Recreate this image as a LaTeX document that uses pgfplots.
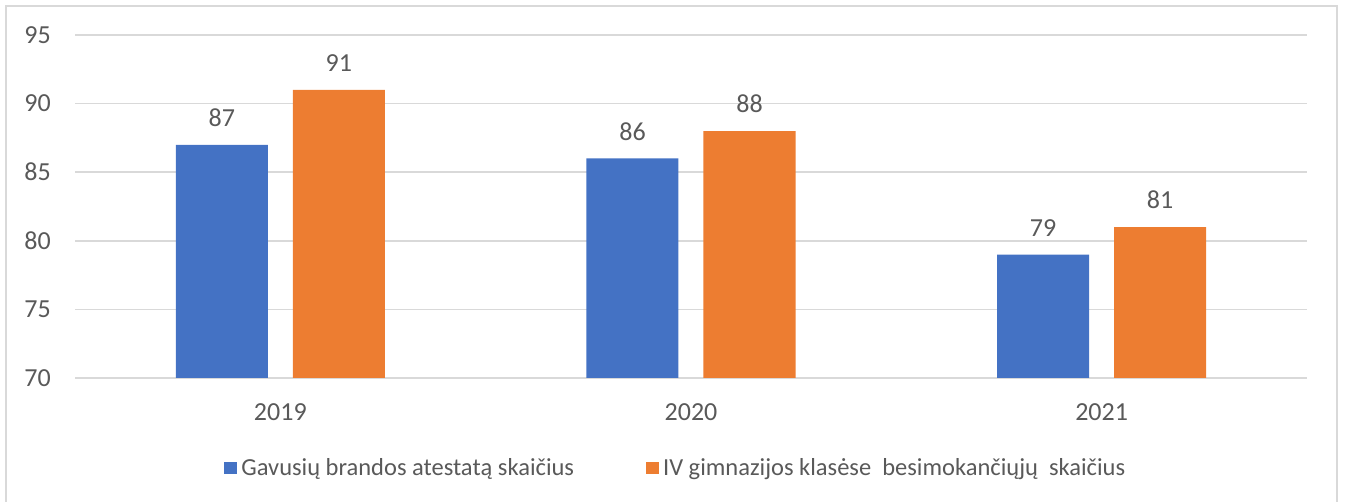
\documentclass[border=0pt]{standalone}
\usepackage{pgfplots}
\pgfplotsset{compat=1.18}
\usepackage{fontspec}
\setmainfont{Carlito}
\definecolor{bblue}{HTML}{4472C4}
\definecolor{borange}{HTML}{ED7D31}
\definecolor{tgray}{HTML}{595959}
\definecolor{ggray}{HTML}{D9D9D9}
\begin{document}
\begin{tikzpicture}[x=1pt,y=1pt]
\draw[ggray, line width=1.5pt] (6,-5) -- (6,496) -- (1337,496) -- (1337,-5);
\begin{axis}[
  at={(75pt,124pt)}, anchor=south west,
  scale only axis, width=1232pt, height=343pt,
  ybar=25pt, bar width=92pt,
  xmin=-0.5, xmax=2.5, ymin=70, ymax=95,
  xtick={0,1,2}, xticklabels={2019,2020,2021},
  ytick={70,75,...,95},
  ymajorgrids, grid style={ggray, line width=1.5pt},
  axis line style={draw=none},
  major tick length=0pt,
  tick label style={font=\fontsize{26}{31}\selectfont, text=tgray},
  yticklabel style={inner sep=0pt, xshift=-24pt},
  xticklabel style={inner sep=0pt, yshift=-25pt},
  /pgf/number format/assume math mode=true,
  nodes near coords,
  nodes near coords style={font=\fontsize{26}{31}\selectfont, text=tgray, inner sep=0pt, anchor=south, yshift=18pt},
  legend image code/.code={\fill[#1] (0pt,-6pt) rectangle (13pt,6pt);},
  legend cell align=left,
  legend style={at={(0.4885,-0.262)}, anchor=center, draw=none, fill=none,
    legend columns=2, font=\fontsize{24.5}{29}\selectfont, text=tgray,
    nodes={inner sep=4pt},
    /tikz/every even column/.append style={column sep=68pt}},
]
\addplot[fill=bblue, draw=none] coordinates {(0,87) (1,86) (2,79)};
\addplot[fill=borange, draw=none] coordinates {(0,91) (1,88) (2,81)};
\legend{Gavusių brandos atestatą skaičius, IV gimnazijos klasėse\ \ besimokančiųjų\ \ skaičius}
\end{axis}
\pgfresetboundingbox
\useasboundingbox (0,0) rectangle (1346,502);
\end{tikzpicture}
\end{document}
